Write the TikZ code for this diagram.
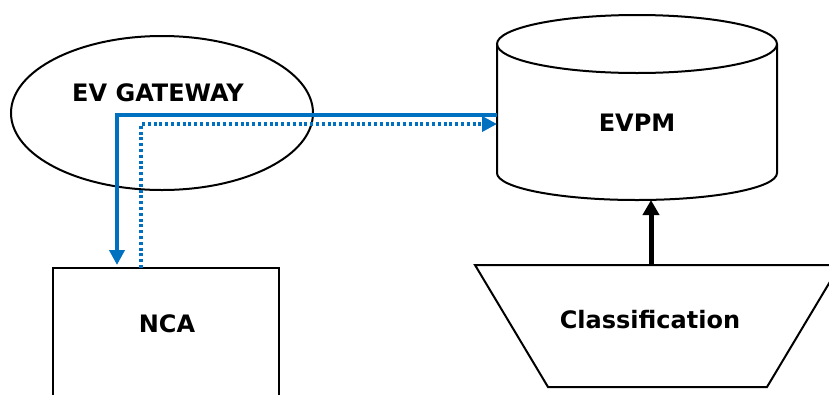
\documentclass[tikz,border=0pt]{standalone}
\usepackage{fontspec}
\setmainfont{DejaVu Sans}
\usetikzlibrary{arrows.meta,shapes.geometric,calc}
\definecolor{evblue}{HTML}{0070C0}
\begin{document}
\begin{tikzpicture}[x=1pt,y=-1pt,
  outline/.style={draw=black, line width=2pt},
  lbl/.style={font=\fontsize{24}{28}\selectfont\bfseries, inner sep=0pt},
  frame/.style={inner sep=0pt, outer sep=0pt},
  flow/.style={draw=evblue, line width=4pt},
  tipb/.style={-{Triangle[length=15pt,width=15pt]}}
]
\useasboundingbox (0,0) rectangle (829,394);
\clip (0,0) rectangle (829,394);

% EV GATEWAY ellipse
\node[ellipse, outline, frame, minimum width=302pt, minimum height=154pt] (gw) at (162,113) {};
\node[lbl] (gwtext) at (158,93) {EV GATEWAY};

% EVPM cylinder
\node[frame, minimum width=280pt, minimum height=156pt] (evpm) at (637,122) {};
\draw[outline] (evpm.north) ellipse[x radius=140pt, y radius=29pt];
\draw[outline] (evpm.north west) -- ([yshift=27pt]evpm.south west)
  arc[start angle=180, end angle=360, x radius=140pt, y radius=27pt] -- (evpm.north east);
\node[lbl] (evpmtext) at (637,123) {EVPM};

% NCA box
\node[outline, rectangle, frame, minimum width=226pt, minimum height=160pt, anchor=north] (nca) at (166,268) {};
\node[lbl] (ncatext) at (167,324) {NCA};

% Classification trapezoid
\node[frame, minimum width=365pt, minimum height=122pt] (class) at (657.5,326) {};
\draw[outline] (class.north west) -- (class.north east) -- ([xshift=-73pt]class.south east)
  -- ([xshift=73pt]class.south west) -- cycle;
\node[lbl] (classtext) at (650,320) {Classification};

% connectors
\draw[flow, tipb, shorten >=3pt] ([yshift=7pt]evpm.west) -| ([xshift=64pt]nca.north west);
\draw[flow, line width=3.6pt, tipb, dash pattern=on 3pt off 2.8pt] ([xshift=88pt]nca.north west) |- ([yshift=-2pt]evpm.west);
\draw[line width=5pt, -{Triangle[length=15pt,width=16pt]}] ([xshift=-6.5pt]class.north) -- ([xshift=-6.5pt]class.north |- evpm.south);
\end{tikzpicture}
\end{document}
